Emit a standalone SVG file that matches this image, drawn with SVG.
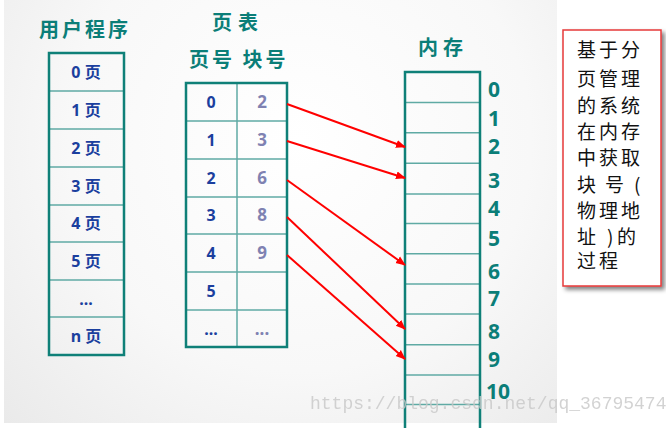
<svg xmlns="http://www.w3.org/2000/svg" width="666" height="428" viewBox="0 0 666 428">
<defs>
<radialGradient id="bg" cx="300" cy="140" r="420" gradientUnits="userSpaceOnUse">
<stop offset="0" stop-color="#ffffff"/>
<stop offset="0.55" stop-color="#f8f8f8"/>
<stop offset="1" stop-color="#e9e9e9"/>
</radialGradient>
<filter id="sh" x="-20%" y="-20%" width="150%" height="150%">
<feGaussianBlur in="SourceAlpha" stdDeviation="2"/>
<feOffset dx="3" dy="3"/>
<feComponentTransfer><feFuncA type="linear" slope="0.5"/></feComponentTransfer>
<feMerge><feMergeNode/><feMergeNode in="SourceGraphic"/></feMerge>
</filter>
<marker id="ah" viewBox="0 0 10 10" refX="9" refY="5" markerWidth="5" markerHeight="5" orient="auto" markerUnits="strokeWidth">
<path d="M0,1 L10,5 L0,9 z" fill="#ff0000"/>
</marker>
</defs>
<style>
.title{font-family:"Noto Sans CJK SC","Noto Sans",sans-serif;font-weight:bold;fill:#0b7e78;font-size:20px}
.outer{fill:none;stroke:#0f8078;stroke-width:2.5}
.inner{stroke:#5faaa4;stroke-width:1.5}
.pg{font-family:"Noto Sans","Noto Sans CJK SC",sans-serif;font-weight:bold;fill:#1b3f9e;font-size:16px;text-anchor:middle}
.blk{font-family:"Noto Sans",sans-serif;font-weight:bold;fill:#7f82b2;font-size:17px;text-anchor:middle}
.num{font-family:"Noto Sans",sans-serif;font-weight:bold;fill:#0b7e78;font-size:21px}
.note{font-family:"Noto Sans CJK SC",sans-serif;fill:#111111;font-size:19px}
.arr{stroke:#ff0000;stroke-width:2;fill:none;marker-end:url(#ah)}
.wm{font-family:"Liberation Mono",monospace;fill:#c8c8c8;font-size:18px;opacity:0.8}
</style>
<rect x="0" y="0" width="666" height="428" fill="#ffffff"/>
<rect x="4" y="0" width="553" height="423" fill="url(#bg)"/>

<g id="user-program">
<text class="title" x="39" y="37" letter-spacing="3">用户程序</text>
<line class="inner" x1="49" y1="91" x2="124" y2="91"/>
<line class="inner" x1="49" y1="129" x2="124" y2="129"/>
<line class="inner" x1="49" y1="167" x2="124" y2="167"/>
<line class="inner" x1="49" y1="205" x2="124" y2="205"/>
<line class="inner" x1="49" y1="242" x2="124" y2="242"/>
<line class="inner" x1="49" y1="280" x2="124" y2="280"/>
<line class="inner" x1="49" y1="317" x2="124" y2="317"/>
<rect class="outer" x="49" y="53" width="75" height="302"/>
<text class="pg" x="86" y="78">0 页</text>
<text class="pg" x="86" y="116">1 页</text>
<text class="pg" x="86" y="154">2 页</text>
<text class="pg" x="86" y="192">3 页</text>
<text class="pg" x="86" y="229">4 页</text>
<text class="pg" x="86" y="267">5 页</text>
<text class="pg" x="86" y="305">...</text>
<text class="pg" x="86" y="342">n 页</text>
</g>

<g id="page-table">
<text class="title" x="212" y="30" letter-spacing="6">页表</text>
<text class="title" x="189" y="67" letter-spacing="3">页号 块号</text>
<line class="inner" x1="237" y1="83" x2="237" y2="347"/>
<line class="inner" x1="186" y1="121" x2="287" y2="121"/>
<line class="inner" x1="186" y1="159" x2="287" y2="159"/>
<line class="inner" x1="186" y1="197" x2="287" y2="197"/>
<line class="inner" x1="186" y1="234" x2="287" y2="234"/>
<line class="inner" x1="186" y1="272" x2="287" y2="272"/>
<line class="inner" x1="186" y1="310" x2="287" y2="310"/>
<rect class="outer" x="186" y="83" width="101" height="264"/>
<text class="pg" x="211" y="108" font-size="17">0</text>
<text class="pg" x="211" y="146" font-size="17">1</text>
<text class="pg" x="211" y="184" font-size="17">2</text>
<text class="pg" x="211" y="221" font-size="17">3</text>
<text class="pg" x="211" y="259" font-size="17">4</text>
<text class="pg" x="211" y="297" font-size="17">5</text>
<text class="pg" x="211" y="335" font-size="17">...</text>
<text class="blk" x="262" y="108">2</text>
<text class="blk" x="262" y="146">3</text>
<text class="blk" x="262" y="184">6</text>
<text class="blk" x="262" y="221">8</text>
<text class="blk" x="262" y="259">9</text>
<text class="blk" x="262" y="335">...</text>
</g>

<g id="memory">
<text class="title" x="418" y="55" letter-spacing="5">内存</text>
<line class="inner" x1="405" y1="102.5" x2="480" y2="102.5"/>
<line class="inner" x1="405" y1="132.7" x2="480" y2="132.7"/>
<line class="inner" x1="405" y1="163.3" x2="480" y2="163.3"/>
<line class="inner" x1="405" y1="194" x2="480" y2="194"/>
<line class="inner" x1="405" y1="223.5" x2="480" y2="223.5"/>
<line class="inner" x1="405" y1="253.7" x2="480" y2="253.7"/>
<line class="inner" x1="405" y1="284" x2="480" y2="284"/>
<line class="inner" x1="405" y1="314" x2="480" y2="314"/>
<line class="inner" x1="405" y1="344.7" x2="480" y2="344.7"/>
<line class="inner" x1="405" y1="375" x2="480" y2="375"/>
<line class="inner" x1="405" y1="404.5" x2="480" y2="404.5"/>
<path class="outer" d="M405,430 V72 H480 V430"/>
<text class="num" x="488" y="97">0</text>
<text class="num" x="488" y="126">1</text>
<text class="num" x="488" y="154">2</text>
<text class="num" x="488" y="188">3</text>
<text class="num" x="488" y="216">4</text>
<text class="num" x="488" y="246">5</text>
<text class="num" x="488" y="279">6</text>
<text class="num" x="488" y="306">7</text>
<text class="num" x="488" y="339">8</text>
<text class="num" x="488" y="367">9</text>
<text class="num" x="486" y="399">10</text>
</g>

<g id="connectors">
<line class="arr" x1="287" y1="104" x2="405" y2="147"/>
<line class="arr" x1="287" y1="141" x2="405" y2="178"/>
<line class="arr" x1="287" y1="180" x2="405" y2="265"/>
<line class="arr" x1="287" y1="217" x2="405" y2="329"/>
<line class="arr" x1="287" y1="255" x2="405" y2="359"/>
</g>

<g id="note">
<rect x="563" y="30" width="98" height="256" fill="#ffffff" stroke="#e63a3a" stroke-width="1.5" filter="url(#sh)"/>
<text class="note" x="577 599 621" y="57">基于分</text>
<text class="note" x="577 599 621" y="86">页管理</text>
<text class="note" x="577 599 621" y="113">的系统</text>
<text class="note" x="577 599 621" y="139">在内存</text>
<text class="note" x="577 599 621" y="165">中获取</text>
<text class="note" x="577 605 634" y="192">块号(</text>
<text class="note" x="577 599 621" y="218">物理地</text>
<text class="note" x="577 607 617" y="244">址)的</text>
<text class="note" x="577 599" y="268">过程</text>
</g>

<text class="wm" x="310" y="409">https://blog.csdn.net/qq_36795474</text>
</svg>
